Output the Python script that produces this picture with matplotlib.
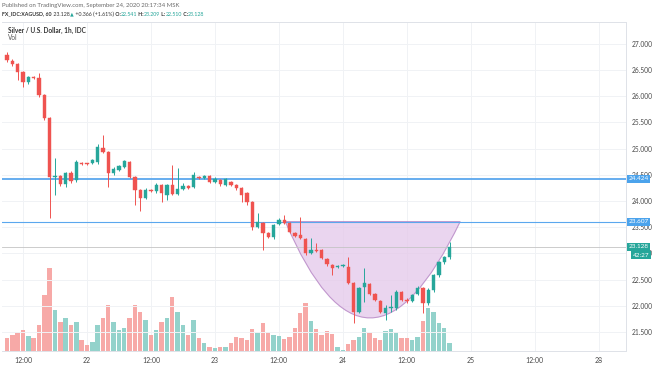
import matplotlib
matplotlib.use("Agg")
import matplotlib.pyplot as plt
import numpy as np
import pandas as pd
from matplotlib.path import Path
from matplotlib.patches import PathPatch
import matplotlib.transforms as mtransforms

plt.rcParams['font.family'] = ['Lato', 'DejaVu Sans']

# ---------------- data (hourly XAGUSD, MSK) ----------------
start_time = "2020-09-21 09:00"
opens = [26.79, 26.67, 26.61, 26.46, 26.27, 26.37, 26.35, 26.02, 25.58, 24.46,
         24.48, 24.33, 24.53, 24.40, 24.73, 24.71, 24.73, 24.74, 25.01, 24.94,
         24.53, 24.59, 24.65, 24.74, 24.46, 24.21, 24.06, 24.21, 24.19, 24.31,
         24.12, 24.31, 24.13, 24.23, 24.29, 24.27, 24.46, 24.44, 24.48, 24.36,
         24.40, 24.31, 24.36, 24.31, 24.25, 24.15, 23.98, 23.50, 23.58, 23.39,
         23.31, 23.56, 23.64, 23.58, 23.39, 23.35, 23.28, 23.01, 23.07, 23.07,
         22.89, 22.78, 22.74, 22.76, 22.74, 22.44, 21.88, 22.36, 22.42, 22.23,
         22.09, 21.86, 21.96, 21.96, 22.26, 22.11, 22.09, 22.23, 22.34, 22.05,
         22.30, 22.58, 22.84, 22.93]
highs = [26.84, 26.71, 26.63, 26.48, 26.39, 26.39, 26.44, 26.04, 25.60, 24.82,
         24.50, 24.55, 24.57, 24.78, 24.74, 24.73, 24.80, 25.09, 25.26, 24.96,
         24.65, 24.69, 24.78, 24.76, 24.48, 24.23, 24.25, 24.23, 24.34, 24.33,
         24.33, 24.69, 24.63, 24.34, 24.31, 24.55, 24.48, 24.50, 24.50, 24.46,
         24.42, 24.44, 24.38, 24.33, 24.27, 24.17, 24.00, 23.77, 23.60, 23.41,
         23.56, 23.68, 23.73, 23.60, 23.41, 23.70, 23.29, 23.29, 23.20, 23.09,
         22.91, 22.80, 22.78, 22.80, 22.93, 22.46, 22.36, 22.72, 22.44, 22.25,
         22.11, 22.02, 22.21, 22.30, 22.28, 22.15, 22.23, 22.38, 22.36, 22.34,
         22.60, 22.86, 22.95, 23.209]
lows = [26.65, 26.58, 26.31, 26.18, 26.23, 26.33, 25.99, 25.55, 23.68, 24.12,
        24.29, 24.27, 24.34, 24.36, 24.69, 24.69, 24.71, 24.71, 24.92, 24.27,
        24.50, 24.57, 24.63, 24.44, 23.92, 23.81, 24.04, 24.17, 24.15, 23.98,
        24.02, 24.12, 24.12, 24.21, 24.23, 24.25, 24.42, 24.42, 24.34, 24.34,
        24.29, 24.29, 24.29, 24.21, 23.98, 23.92, 23.45, 23.48, 23.07, 23.29,
        23.28, 23.54, 23.56, 23.39, 23.31, 23.28, 22.97, 22.99, 23.03, 22.89,
        22.76, 22.59, 22.72, 22.74, 22.42, 21.67, 21.86, 22.07, 22.21, 22.09,
        21.86, 21.73, 21.88, 21.92, 22.09, 22.05, 22.07, 22.21, 21.86, 22.02,
        22.26, 22.55, 22.80, 22.90]
closes = [26.69, 26.61, 26.46, 26.27, 26.37, 26.35, 26.02, 25.58, 24.46, 24.48,
          24.33, 24.53, 24.38, 24.74, 24.71, 24.70, 24.78, 25.03, 24.94, 24.53,
          24.61, 24.67, 24.76, 24.46, 24.21, 24.06, 24.21, 24.19, 24.31, 24.15,
          24.31, 24.13, 24.23, 24.29, 24.25, 24.50, 24.44, 24.48, 24.36, 24.42,
          24.33, 24.42, 24.31, 24.25, 24.12, 23.98, 23.50, 23.60, 23.39, 23.31,
          23.54, 23.64, 23.58, 23.41, 23.33, 23.29, 23.01, 23.07, 23.05, 22.91,
          22.80, 22.72, 22.76, 22.78, 22.44, 21.88, 22.34, 22.44, 22.23, 22.11,
          21.88, 21.96, 21.98, 22.26, 22.11, 22.09, 22.21, 22.34, 22.05, 22.30,
          22.58, 22.84, 22.93, 23.128]
volume = [13, 16, 18, 21, 15, 13, 26, 56, 83, 41,
          29, 33, 26, 29, 11, 6, 9, 26, 33, 46,
          29, 21, 23, 33, 46, 39, 31, 16, 21, 29,
          33, 54, 39, 26, 16, 31, 13, 8, 4, 3,
          4, 4, 8, 14, 13, 11, 22, 18, 28, 19,
          16, 15, 12, 14, 23, 38, 48, 30, 22, 16,
          20, 17, 4, 1, 7, 11, 14, 23, 18, 13,
          11, 20, 22, 19, 13, 13, 11, 14, 30, 43,
          39, 28, 23, 8]

price_ticks = [21.5, 22.0, 22.5, 23.0, 23.5, 24.0, 24.5, 25.0, 25.5, 26.0, 26.5, 27.0]
time_tick_times = ["2020-09-21 12:00", "2020-09-22 00:00", "2020-09-22 12:00",
                   "2020-09-23 00:00", "2020-09-23 12:00", "2020-09-24 00:00",
                   "2020-09-24 12:00", "2020-09-25 00:00", "2020-09-25 12:00",
                   "2020-09-28 00:00"]
time_tick_labels = ["12:00", "22", "12:00", "23", "12:00", "24", "12:00", "25", "12:00", "28"]
weekend_start, weekend_hours = "2020-09-26 00:00", 48

level_upper = 24.424
level_lower = 23.607
last_price = 23.128
countdown = "42:27"
# cup drawing anchors (bar index, price)
cup_left = (52.2, 23.607)
cup_ctrl = (67.6, 19.93)
cup_right = (85.0, 23.607)

header1 = "Published on TradingView.com, September 24, 2020 20:17:34 MSK"
header2 = [("FX_IDC:XAGUSD, 60", "#333333", "bold"), (" 23.128", "#333333", "normal"),
           (" ▲", "#26a69a", "normal"), (" +0.366 (+1.61%)", "#333333", "normal"),
           (" O:", "#333333", "bold"), ("22.541", "#26a69a", "normal"),
           (" H:", "#333333", "bold"), ("23.209", "#26a69a", "normal"),
           (" L:", "#333333", "bold"), ("22.510", "#26a69a", "normal"),
           (" C:", "#333333", "bold"), ("23.128", "#26a69a", "normal")]
legend1 = "Silver / U.S. Dollar, 1h, IDC"
legend2 = "Vol"

# ---------------- helpers ----------------
t0 = pd.Timestamp(start_time)


def bar_pos(ts):
    ts = pd.Timestamp(ts)
    h = (ts - t0) / pd.Timedelta(hours=1)
    if ts >= pd.Timestamp(weekend_start):
        h -= weekend_hours
    return h


UP, DOWN = "#26a69a", "#ef5350"
VUP, VDOWN = "#93d2cb", "#f7a9a7"

o = np.array(opens); c = np.array(closes); hi = np.array(highs); lo = np.array(lows)
idx = np.arange(len(o))
up = c >= o
col = np.where(up, UP, DOWN)
vcol = np.where(up, VUP, VDOWN)

W, H = 654, 366
fig = plt.figure(figsize=(W / 100, H / 100), dpi=100)
fig.patch.set_facecolor("white")
rect = [2 / W, 15 / H, 624 / W, 329 / H]

axv = fig.add_axes(rect)
axv.set_zorder(1)
ax = fig.add_axes(rect, sharex=axv)
ax.set_zorder(2)
ax.patch.set_visible(False)

# volume
axv.bar(idx, volume, width=0.82, color=vcol, linewidth=0)
axv.set_ylim(0, 329)
axv.set_yticks([])
axv.tick_params(axis="x", length=0, pad=4, labelsize=5, colors="#4a4a4a")
for s in axv.spines.values():
    s.set_visible(False)

ax.set_xlim(-0.94, 116.1)
ax.set_ylim(21.138, 27.416)

# grid
tick_pos = [bar_pos(t) for t in time_tick_times]
for p in tick_pos:
    axv.axvline(p, color="#f0f2f5", lw=0.7, zorder=0)
for p in price_ticks:
    ax.axhline(p, color="#f0f2f5", lw=0.7, zorder=0)

# cup
verts = [cup_left, cup_ctrl, cup_right, cup_left]
codes = [Path.MOVETO, Path.CURVE3, Path.CURVE3, Path.LINETO]
ax.add_patch(PathPatch(Path(verts, codes), facecolor="#e4c8ea", alpha=0.75,
                       edgecolor="#b07cc0", lw=0.8, zorder=1))

# horizontal levels
ax.axhline(level_upper, color="#5aa7ee", lw=1.3, zorder=2)
ax.axhline(level_lower, color="#5aa7ee", lw=0.8, zorder=2)
ax.axhline(last_price, color="#c4c4c4", lw=0.6, zorder=2)

# candles
ax.vlines(idx, lo, hi, colors=col, lw=0.7, zorder=3)
body = np.where(np.abs(c - o) < 0.015, 0.015, c - o)
ax.bar(idx, body, bottom=o, width=0.62, color=col, edgecolor=col, lw=0.3, zorder=4)

# axes styling
ax.yaxis.tick_right()
ax.set_yticks(price_ticks)
ax.set_yticklabels([f"{p:.3f}" for p in price_ticks])
ax.tick_params(axis="y", length=0, pad=4, labelsize=4.8, colors="#4a4a4a")
ax.tick_params(axis="x", labelbottom=False, length=0)
axv.set_xticks(tick_pos)
axv.set_xticklabels(time_tick_labels)
for name, s in ax.spines.items():
    s.set_color("#dfe2e8")
    s.set_linewidth(0.7)
ax.spines["left"].set_visible(False)

# price boxes on scale
trans = mtransforms.blended_transform_factory(ax.transAxes, ax.transData)
box = dict(boxstyle="square,pad=0.22", lw=0)
for val, fc in [(level_upper, "#4ba3ec"), (level_lower, "#4ba3ec"), (last_price, "#26a69a")]:
    ax.text(1.004, val, f"{val:.3f}", transform=trans, ha="left", va="center",
            fontsize=4.6, color="white", bbox=dict(box, fc=fc), zorder=10, clip_on=False)
ax.annotate(countdown, xy=(1.011, last_price), xycoords=trans, xytext=(0, -6.0),
            textcoords="offset points", ha="left", va="center", fontsize=4.6, color="white",
            bbox=dict(box, fc="#26a69a"), zorder=10, annotation_clip=False)

# legend inside pane
ax.text(6 / 624, 1 - 8 / 329, legend1, transform=ax.transAxes, fontsize=4.7,
        fontweight="bold", color="#333333", va="center", ha="left")
ax.text(6 / 624, 1 - 16 / 329, legend2, transform=ax.transAxes, fontsize=4.7,
        color="#555555", va="center", ha="left")

# header
fig.text(2 / W, 1 - 5 / H, header1, fontsize=4.3, color="#6a6a6a", va="center", ha="left")
prev = fig.text(2 / W, 1 - 14 / H, header2[0][0], color=header2[0][1], fontweight=header2[0][2],
                fontsize=3.8, va="center", ha="left")
for s, cc, wt in header2[1:]:
    prev = ax.annotate(s, xy=(1, 0.5), xycoords=prev, xytext=(0, 0),
                       textcoords="offset points", va="center", ha="left",
                       fontsize=3.3 if s == " ▲" else 3.8, color=cc, fontweight=wt,
                       annotation_clip=False)

fig.savefig("out.png", dpi=100, facecolor="white")
